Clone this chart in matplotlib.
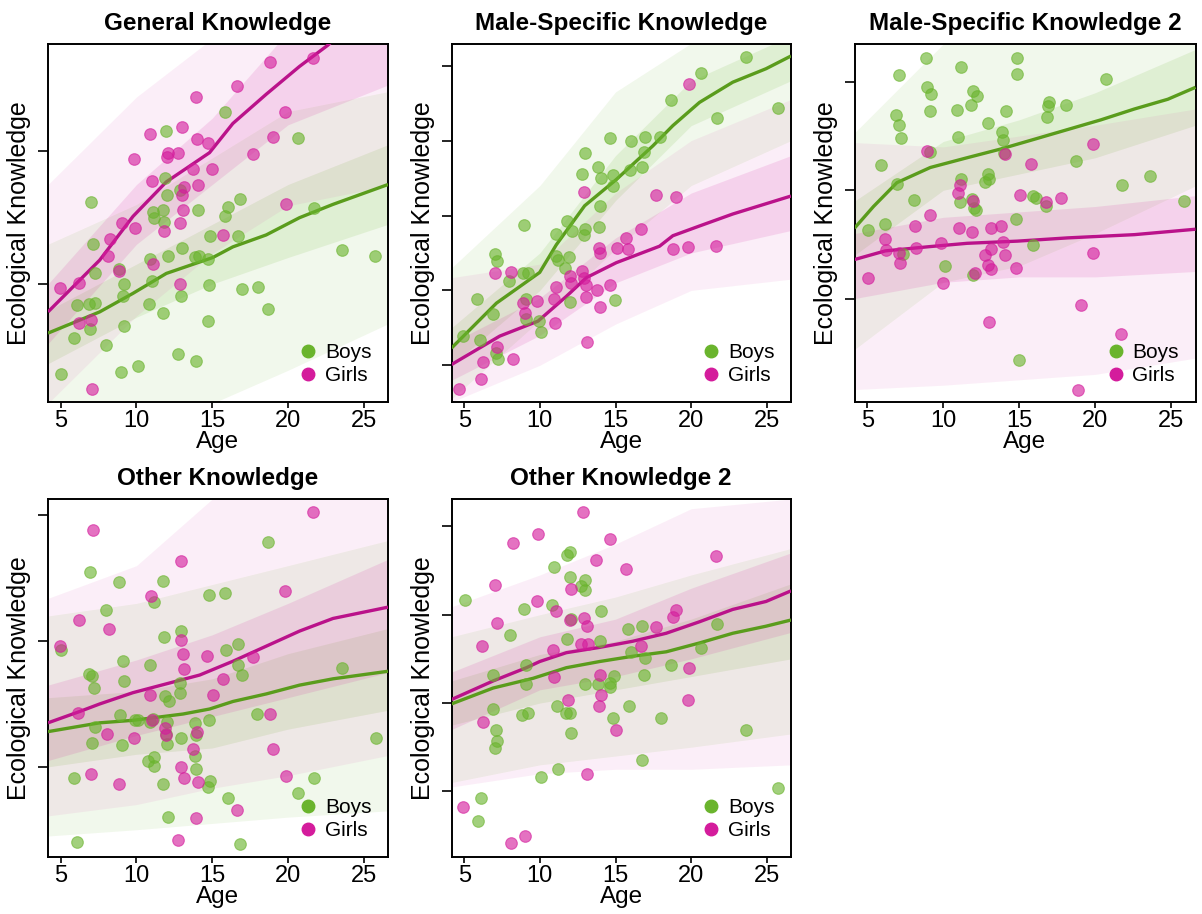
import numpy as np
import matplotlib
matplotlib.use("Agg")
import matplotlib.pyplot as plt
from matplotlib.lines import Line2D

plt.rcParams["font.family"] = ["Liberation Sans", "DejaVu Sans"]

GREEN = "#6AB42D"
MAGENTA = "#D41C9C"
GREEN_LINE = "#5A9C1C"
MAGENTA_LINE = "#BA128A"

XLIM = (4.16, 26.6)
BAND_AGE = [4.16, 10, 15, 20, 26.6]

# ---------------- General Knowledge ----------------
GK_GIRLS = [(4.93, -0.03), (6.19, 0.005), (6.19, -0.29), (7.09, -0.79), (7.02, -0.27),
            (8.23, 0.34), (8.14, 0.21), (9.07, 0.46), (8.85, 0.10), (9.84, 0.94),
            (9.88, 0.42), (10.91, 1.13), (11.00, 0.78), (11.09, 0.15), (12.08, 0.99),
            (12.03, 0.96), (11.84, 0.40), (12.74, 0.99), (12.89, 0.46), (13.02, 1.18),
            (13.13, 0.73), (12.98, 0.67), (13.09, 0.56), (12.89, 0.00), (13.73, 0.87),
            (13.95, 1.41), (14.01, 1.09), (14.08, 0.75), (14.69, 1.06), (15.0, 0.87),
            (15.70, 0.37), (16.65, 1.49), (17.68, 0.98), (18.82, 1.67), (19.0, 1.11),
            (19.77, 1.30), (19.84, 0.60), (21.64, 1.70)]
GK_BOYS = [(5.0, -0.68), (5.86, -0.41), (6.10, -0.16), (6.87, -0.15), (7.02, 0.62),
           (7.11, 0.30), (7.29, 0.08), (7.24, -0.14), (6.96, -0.34), (8.01, -0.46),
           (8.96, -0.66), (8.85, 0.11), (9.15, 0.0), (9.11, -0.09), (9.15, -0.32),
           (10.10, -0.62), (10.85, -0.15), (10.91, 0.19), (11.09, 0.54), (11.13, 0.50),
           (11.04, 0.02), (11.77, -0.22), (11.75, 0.56), (11.81, 0.47), (11.95, 1.15),
           (12.01, 0.67), (12.10, 0.21), (11.90, 0.80), (12.76, -0.53), (12.96, -0.09),
           (12.98, 0.27), (12.87, 0.71), (13.90, -0.58), (13.86, 0.20), (14.10, 0.21),
           (14.08, 0.56), (14.74, -0.28), (14.76, -0.01), (14.74, 0.19), (14.87, 0.36),
           (15.86, 0.51), (16.05, 0.58), (15.84, 1.30), (16.80, 0.64), (16.71, 0.36),
           (16.96, -0.04), (18.01, -0.02), (18.67, -0.19), (20.69, 1.10), (21.70, 0.57),
           (23.57, 0.26), (25.77, 0.21)]
GK_GIRLS_MEAN_AGE = [4.16, 7.57, 9.77, 11.97, 14.82, 16.36, 18.56, 20.76, 22.63, 24.0]
GK_GIRLS_MEAN = [-0.21, 0.18, 0.51, 0.77, 0.99, 1.21, 1.43, 1.64, 1.80, 1.95]
GK_BOYS_MEAN_AGE = [4.16, 7.57, 9.77, 11.97, 15.04, 16.36, 18.56, 20.76, 22.96, 26.6]
GK_BOYS_MEAN = [-0.37, -0.21, -0.07, 0.08, 0.20, 0.28, 0.37, 0.50, 0.60, 0.75]
GK_GIRLS_OUTER = ([-0.9, -0.24, 0.23, 0.59, 0.74], [0.75, 1.41, 1.85, 1.9, 1.9])
GK_GIRLS_INNER = ([-0.45, 0.30, 0.75, 1.20, 1.50], [0.0, 0.75, 1.25, 1.90, 2.2])
GK_BOYS_OUTER = ([-0.9, -0.9, -0.9, -0.65, -0.3], [0.3, 0.6, 0.95, 1.3, 1.45])
GK_BOYS_INNER = ([-0.6, -0.25, 0.0, 0.2, 0.45], [-0.2, 0.15, 0.45, 0.75, 1.05])

# ---------------- Male-Specific Knowledge ----------------
MS_GIRLS = [(4.67, -0.32), (6.14, -0.18), (6.25, 0.05), (7.17, 0.25), (7.02, 1.23),
            (8.12, 1.24), (8.23, 0.09), (8.89, 0.83), (9.0, 0.70), (9.84, 0.86),
            (10.91, 0.89), (11.05, 1.04), (10.98, 0.57), (12.08, 1.10), (11.97, 1.19),
            (12.81, 1.26), (12.92, 1.17), (13.07, 1.07), (13.07, 0.91), (13.14, 0.31),
            (13.80, 1.0), (14.0, 0.78), (13.95, 1.50), (13.91, 1.57), (14.65, 1.07),
            (15.09, 1.56), (15.71, 1.70), (15.84, 1.55), (16.70, 1.82), (17.69, 2.28),
            (18.97, 2.25), (18.79, 1.55), (19.80, 1.58), (21.65, 1.59), (19.89, 3.76),
            (12.92, 2.31)]
MS_BOYS = [(4.93, 0.39), (5.85, 0.89), (6.03, 0.34), (6.87, 0.68), (7.06, 1.48),
           (7.17, 1.39), (7.24, 0.08), (7.09, 0.16), (7.97, 1.13), (8.89, 1.23),
           (9.22, 1.23), (8.96, 1.87), (9.11, 0.88), (9.07, 0.62), (10.10, 0.45),
           (9.95, 0.59), (11.09, 1.75), (11.05, 1.46), (11.20, 1.40), (11.79, 1.93),
           (11.93, 1.44), (11.68, 1.30), (12.15, 1.79), (11.97, 0.84), (12.76, 2.56),
           (12.98, 2.84), (12.98, 1.82), (12.92, 1.74), (13.86, 2.65), (14.02, 2.50),
           (13.95, 2.13), (13.91, 1.85), (14.83, 2.54), (14.85, 2.40), (14.96, 0.87),
           (14.65, 3.03), (16.04, 3.0), (15.93, 2.61), (16.97, 3.05), (16.86, 2.85),
           (16.77, 2.65), (17.91, 3.05), (18.68, 3.54), (20.66, 3.90), (21.72, 3.30),
           (23.63, 4.11), (25.77, 3.43)]
MS_BOYS_MEAN_AGE = [4.16, 7.13, 9.99, 11.09, 12.96, 15.05, 17.47, 18.79, 20.55, 22.75, 24.95, 26.6]
MS_BOYS_MEAN = [0.23, 0.83, 1.24, 1.61, 2.13, 2.48, 2.93, 3.20, 3.51, 3.78, 3.96, 4.13]
MS_GIRLS_MEAN_AGE = [4.16, 7.35, 9.88, 11.75, 13.07, 15.05, 17.91, 18.79, 20.55, 22.75, 26.6]
MS_GIRLS_MEAN = [0.01, 0.39, 0.59, 0.92, 1.17, 1.37, 1.59, 1.73, 1.86, 2.02, 2.26]
MS_BOYS_OUTER = ([-0.45, 0.6, 1.55, 2.4, 3.0], [1.3, 2.4, 3.65, 4.3, 4.3])
MS_BOYS_INNER = ([0.0, 1.0, 2.2, 3.2, 3.8], [0.5, 1.5, 2.8, 3.8, 4.4])
MS_GIRLS_OUTER = ([-0.49, 0.0, 0.55, 1.0, 1.15], [1.17, 1.35, 2.3, 3.0, 3.55])
MS_GIRLS_INNER = ([-0.2, 0.4, 1.1, 1.5, 1.8], [0.3, 0.9, 1.7, 2.3, 2.8])

# ---------------- Male-Specific Knowledge 2 ----------------
MS2_BOYS = [(5.04, 0.63), (5.92, 1.23), (6.18, 0.69), (6.95, 1.06), (6.89, 1.69),
            (7.08, 1.60), (7.11, 2.06), (7.24, 1.48), (7.35, 0.41), (8.05, 0.91),
            (8.87, 2.22), (8.96, 1.95), (9.22, 1.89), (9.15, 1.73), (9.15, 1.35),
            (10.12, 0.30), (10.91, 1.74), (10.98, 1.49), (11.13, 0.89), (11.18, 1.10),
            (11.18, 2.14), (11.84, 1.79), (11.95, 1.92), (12.19, 1.87), (11.90, 0.92),
            (12.01, 0.84), (12.17, 0.82), (11.97, 0.22), (12.96, 1.62), (12.92, 1.15),
            (13.0, 1.10), (12.78, 1.08), (13.84, 1.54), (13.93, 1.46), (14.11, 1.73),
            (14.02, 1.34), (14.77, 0.73), (14.87, 2.22), (14.87, 2.07), (15.91, 0.49),
            (15.91, 0.95), (16.11, 0.93), (16.97, 1.81), (16.90, 1.78), (16.81, 1.68),
            (16.77, 0.85), (18.07, 1.79), (18.73, 1.27), (20.71, 2.03), (21.76, 1.05),
            (23.61, 1.13), (25.83, 0.90), (14.98, -0.57)]
MS2_GIRLS = [(5.02, 0.19), (6.18, 0.55), (6.25, 0.45), (7.06, 0.42), (7.13, 0.33),
             (8.12, 0.67), (8.23, 0.47), (8.93, 1.36), (9.11, 0.77), (9.88, 0.51),
             (9.97, 0.14), (10.98, 0.97), (11.02, 0.65), (11.09, 1.05), (11.90, 0.61),
             (11.97, 0.90), (12.06, 0.24), (12.78, 0.40), (12.94, 0.31), (13.16, 0.65),
             (13.16, 0.46), (13.16, 0.27), (13.80, 0.67), (13.93, 0.52), (14.08, 0.40),
             (14.04, 1.33), (14.77, 0.28), (15.05, 0.96), (15.76, 1.24), (16.75, 0.89),
             (17.74, 0.93), (19.85, 1.43), (19.85, 0.42), (19.06, -0.06), (13.0, -0.22),
             (21.70, -0.33), (18.84, -0.84)]
MS2_BOYS_MEAN_AGE = [4.16, 5.41, 6.95, 9.15, 11.57, 13.77, 15.98, 18.18, 20.38, 22.58, 24.78, 26.6]
MS2_BOYS_MEAN = [0.65, 0.85, 1.07, 1.21, 1.30, 1.38, 1.47, 1.56, 1.65, 1.75, 1.84, 1.95]
MS2_GIRLS_MEAN_AGE = [4.16, 6.18, 9.15, 11.57, 14.87, 18.18, 22.58, 26.6]
MS2_GIRLS_MEAN = [0.36, 0.44, 0.48, 0.51, 0.53, 0.56, 0.59, 0.64]
MS2_BOYS_OUTER = ([-0.47, 0.15, 0.3, 0.6, 1.04], [1.53, 2.35, 2.35, 2.35, 2.35])
MS2_BOYS_INNER = ([0.4, 1.0, 1.15, 1.3, 1.6], [0.9, 1.45, 1.65, 1.9, 2.3])
MS2_GIRLS_OUTER = ([-0.84, -0.8, -0.75, -0.7, -0.55], [1.44, 1.4, 1.5, 1.6, 1.75])
MS2_GIRLS_INNER = ([0.0, 0.15, 0.2, 0.2, 0.25], [0.6, 0.75, 0.8, 0.85, 0.95])

# ---------------- Other Knowledge ----------------
OK_GIRLS = [(4.93, 0.96), (6.18, 1.17), (6.16, 0.43), (7.13, 1.88), (7.0, -0.06),
            (8.19, 1.10), (8.08, 0.26), (8.87, -0.14), (9.84, 0.23), (10.98, 1.36),
            (10.87, 0.57), (11.05, 0.37), (11.86, 0.31), (11.97, 0.25), (12.92, 1.64),
            (12.92, 1.01), (13.07, 0.90), (13.12, 0.78), (12.92, 0.0), (13.12, -0.09),
            (13.73, 0.14), (14.02, 0.28), (14.06, -0.12), (12.74, -0.58), (13.91, -0.41),
            (14.68, 0.88), (15.05, 0.57), (15.71, 0.70), (16.64, -0.34), (17.69, 0.87),
            (18.79, 0.42), (19.01, 0.14), (19.78, 1.40), (19.85, -0.07), (21.65, 2.03)]
OK_BOYS = [(5.0, 0.93), (6.10, -0.60), (5.85, -0.09), (6.87, 0.74), (7.09, 0.72),
           (7.22, 0.63), (7.26, 0.32), (7.09, 0.19), (6.95, 1.55), (7.97, 1.25),
           (8.82, 1.47), (9.11, 0.84), (9.15, 0.68), (8.93, 0.41), (9.04, 0.17),
           (9.92, 0.37), (10.10, 0.37), (10.91, 0.81), (11.13, 1.31), (10.91, 0.36),
           (11.09, 0.38), (10.74, 0.05), (11.13, 0.08), (11.13, 0.01), (11.73, 1.48),
           (11.82, 1.03), (11.90, 0.56), (12.15, 0.52), (12.02, 0.36), (11.97, 0.26),
           (12.0, 0.18), (11.75, -0.14), (12.10, -0.40), (12.96, 1.08), (12.85, 0.67),
           (12.90, 0.59), (12.96, 0.23), (13.86, 0.35), (13.95, 0.25), (13.86, 0.09),
           (13.93, -0.02), (14.79, 1.37), (14.77, 0.37), (14.85, -0.11), (14.74, -0.16),
           (15.82, 1.38), (15.89, 0.93), (16.06, -0.25), (16.70, 0.98), (16.70, 0.81),
           (16.97, 0.73), (16.86, -0.61), (17.98, 0.42), (18.68, 1.79), (20.66, -0.21),
           (21.72, -0.09), (23.59, 0.79), (25.79, 0.23)]
OK_GIRLS_MEAN_AGE = [4.16, 6.25, 7.57, 9.77, 11.97, 14.17, 16.37, 18.57, 20.77, 22.97, 26.6]
OK_GIRLS_MEAN = [0.35, 0.44, 0.50, 0.59, 0.66, 0.73, 0.84, 0.96, 1.08, 1.18, 1.27]
OK_BOYS_MEAN_AGE = [4.16, 7.57, 9.77, 13.07, 14.83, 16.37, 18.57, 20.77, 22.97, 26.6]
OK_BOYS_MEAN = [0.28, 0.35, 0.37, 0.42, 0.46, 0.52, 0.58, 0.65, 0.70, 0.76]
OK_GIRLS_OUTER = ([-0.39, -0.3, -0.17, -0.07, 0.09], [1.34, 1.6, 2.13, 2.13, 2.13])
OK_GIRLS_INNER = ([0.05, 0.25, 0.4, 0.55, 0.75], [0.65, 0.85, 1.05, 1.3, 1.65])
OK_BOYS_OUTER = ([-0.55, -0.5, -0.45, -0.4, -0.35], [1.2, 1.3, 1.45, 1.6, 1.8])
OK_BOYS_INNER = ([0.0, 0.1, 0.15, 0.3, 0.45], [0.55, 0.6, 0.7, 0.9, 1.1])

# ---------------- Other Knowledge 2 ----------------
OK2_GIRLS = [(4.93, -0.18), (6.18, 1.65), (6.21, 0.78), (7.02, 2.34), (7.15, 1.91),
             (8.23, 2.81), (8.12, -0.58), (9.04, -0.50), (9.88, 2.91), (9.84, 2.15),
             (10.87, 1.60), (10.96, 1.29), (11.09, 2.04), (11.88, 1.03), (12.01, 1.94),
             (12.08, 2.29), (12.70, 1.67), (12.87, 3.16), (12.89, 1.96), (13.09, 1.87),
             (13.18, 1.67), (13.14, 0.20), (13.73, 2.62), (13.91, 0.97), (13.95, 1.32),
             (14.04, 1.09), (14.65, 2.86), (15.05, 0.69), (15.71, 2.52), (16.68, 1.65),
             (17.69, 1.86), (18.79, 1.97), (18.97, 2.05), (19.85, 1.40), (19.78, 1.03),
             (21.65, 2.66)]
OK2_BOYS = [(5.04, 2.17), (5.88, -0.34), (6.10, -0.08), (6.91, 1.32), (6.87, 0.93),
            (7.13, 0.70), (7.20, 0.57), (7.06, 0.49), (8.01, 1.77), (8.96, 2.06),
            (8.85, 0.87), (9.22, 0.89), (9.11, 1.43), (9.07, 1.22), (10.10, 0.16),
            (10.91, 2.54), (10.83, 2.11), (11.11, 0.97), (11.18, 0.25), (11.75, 0.89),
            (12.01, 0.89), (12.08, 0.66), (11.79, 1.72), (11.77, 2.68), (11.97, 2.71),
            (12.01, 2.43), (12.08, 1.95), (12.74, 2.33), (12.96, 2.28), (12.98, 2.39),
            (12.98, 1.21), (13.84, 1.21), (14.90, 1.31), (14.0, 1.70), (14.04, 2.04),
            (14.65, 1.23), (14.65, 1.18), (14.83, 0.83), (15.82, 1.84), (15.87, 0.97),
            (16.04, 1.58), (16.74, 0.35), (16.77, 1.87), (16.86, 1.32), (16.97, 1.51),
            (18.02, 0.83), (18.68, 1.43), (20.66, 1.62), (21.72, 1.89), (23.63, 0.69),
            (25.77, 0.04)]
OK2_GIRLS_MEAN_AGE = [4.16, 6.91, 9.11, 9.99, 11.75, 13.95, 16.15, 18.35, 20.55, 22.75, 24.95, 26.6]
OK2_GIRLS_MEAN = [1.04, 1.25, 1.40, 1.47, 1.57, 1.63, 1.70, 1.79, 1.92, 2.06, 2.15, 2.27]
OK2_BOYS_MEAN_AGE = [4.16, 6.91, 9.55, 11.75, 13.95, 16.15, 18.35, 20.55, 22.75, 24.95, 26.6]
OK2_BOYS_MEAN = [0.99, 1.17, 1.28, 1.40, 1.47, 1.53, 1.58, 1.68, 1.79, 1.87, 1.94]
OK2_GIRLS_OUTER = ([0.05, 0.2, 0.25, 0.25, 0.3], [2.09, 2.45, 2.8, 3.2, 3.31])
OK2_GIRLS_INNER = ([0.7, 1.15, 1.3, 1.5, 1.8], [1.35, 1.75, 1.95, 2.3, 2.7])
OK2_BOYS_OUTER = ([0.1, 0.3, 0.4, 0.5, 0.65], [1.75, 2.0, 2.2, 2.45, 2.75])
OK2_BOYS_INNER = ([0.75, 1.0, 1.15, 1.3, 1.5], [1.25, 1.55, 1.7, 1.95, 2.35])

W, H = 1202, 914
fig = plt.figure(figsize=(W / 100, H / 100), dpi=100)


def px_axes(left, top, right, bottom):
    return fig.add_axes([left / W, 1 - bottom / H, (right - left) / W, (bottom - top) / H])


def draw_panel(ax, title, ylim, yticks, boys, girls,
               boys_mean, girls_mean, boys_bands, girls_bands):
    # posterior spread of the age curves
    for (lo, hi), a in zip(boys_bands, (0.09, 0.13)):
        ax.fill_between(BAND_AGE, lo, hi, color=GREEN, alpha=a, lw=0, zorder=1)
    for (lo, hi), a in zip(girls_bands, (0.07, 0.13)):
        ax.fill_between(BAND_AGE, lo, hi, color=MAGENTA, alpha=a, lw=0, zorder=1)
    # mean curves
    ax.plot(boys_mean[0], boys_mean[1], color=GREEN_LINE, lw=2.4, zorder=3,
            solid_capstyle="butt", solid_joinstyle="round")
    ax.plot(girls_mean[0], girls_mean[1], color=MAGENTA_LINE, lw=2.4, zorder=3,
            solid_capstyle="butt", solid_joinstyle="round")
    # observed scores
    bx, by = zip(*boys)
    gx, gy = zip(*girls)
    ax.scatter(bx, by, s=70, color=GREEN, alpha=0.62, edgecolors=GREEN,
               linewidths=0.8, zorder=4)
    ax.scatter(gx, gy, s=70, color=MAGENTA, alpha=0.62, edgecolors=MAGENTA,
               linewidths=0.8, zorder=4)

    ax.set_xlim(*XLIM)
    ax.set_ylim(*ylim)
    ax.set_xticks([5, 10, 15, 20, 25])
    ax.set_yticks(yticks)
    ax.set_yticklabels([])
    ax.tick_params(axis="x", direction="out", length=4, width=1.2,
                   labelsize=17, pad=2)
    ax.tick_params(axis="y", direction="out", length=7, width=1.2, pad=2)
    for sp in ax.spines.values():
        sp.set_linewidth(1.4)
    ax.set_title(title, fontsize=17.5, fontweight="bold", pad=10)
    ax.set_xlabel("Age", fontsize=17.5, labelpad=-1)
    ax.set_ylabel("Ecological Knowledge", fontsize=18, labelpad=3)

    handles = [Line2D([], [], ls="none", marker="o", ms=9, color=GREEN),
               Line2D([], [], ls="none", marker="o", ms=9, color=MAGENTA)]
    ax.legend(handles, ["Boys", "Girls"], loc="lower right", frameon=False,
              fontsize=15, handletextpad=0.2, labelspacing=0.2,
              borderaxespad=0.4, handlelength=1.2)


ax1 = px_axes(48, 44, 388, 402)
draw_panel(ax1, "General Knowledge", (-0.889, 1.809), [0, 1], GK_BOYS, GK_GIRLS,
           (GK_BOYS_MEAN_AGE, GK_BOYS_MEAN), (GK_GIRLS_MEAN_AGE, GK_GIRLS_MEAN),
           (GK_BOYS_OUTER, GK_BOYS_INNER), (GK_GIRLS_OUTER, GK_GIRLS_INNER))

ax2 = px_axes(451.5, 44, 791, 402)
draw_panel(ax2, "Male-Specific Knowledge", (-0.49, 4.29), [0, 1, 2, 3, 4], MS_BOYS, MS_GIRLS,
           (MS_BOYS_MEAN_AGE, MS_BOYS_MEAN), (MS_GIRLS_MEAN_AGE, MS_GIRLS_MEAN),
           (MS_BOYS_OUTER, MS_BOYS_INNER), (MS_GIRLS_OUTER, MS_GIRLS_INNER))

ax3 = px_axes(854.5, 44, 1195.5, 402)
draw_panel(ax3, "Male-Specific Knowledge 2", (-0.955, 2.35), [0, 1, 2], MS2_BOYS, MS2_GIRLS,
           (MS2_BOYS_MEAN_AGE, MS2_BOYS_MEAN), (MS2_GIRLS_MEAN_AGE, MS2_GIRLS_MEAN),
           (MS2_BOYS_OUTER, MS2_BOYS_INNER), (MS2_GIRLS_OUTER, MS2_GIRLS_INNER))

ax4 = px_axes(48, 499, 388, 857)
draw_panel(ax4, "Other Knowledge", (-0.717, 2.13), [0, 1, 2], OK_BOYS, OK_GIRLS,
           (OK_BOYS_MEAN_AGE, OK_BOYS_MEAN), (OK_GIRLS_MEAN_AGE, OK_GIRLS_MEAN),
           (OK_BOYS_OUTER, OK_BOYS_INNER), (OK_GIRLS_OUTER, OK_GIRLS_INNER))

ax5 = px_axes(451.5, 499, 791, 857)
draw_panel(ax5, "Other Knowledge 2", (-0.743, 3.31), [0, 1, 2, 3], OK2_BOYS, OK2_GIRLS,
           (OK2_BOYS_MEAN_AGE, OK2_BOYS_MEAN), (OK2_GIRLS_MEAN_AGE, OK2_GIRLS_MEAN),
           (OK2_BOYS_OUTER, OK2_BOYS_INNER), (OK2_GIRLS_OUTER, OK2_GIRLS_INNER))

fig.savefig("out.png", dpi=100)
